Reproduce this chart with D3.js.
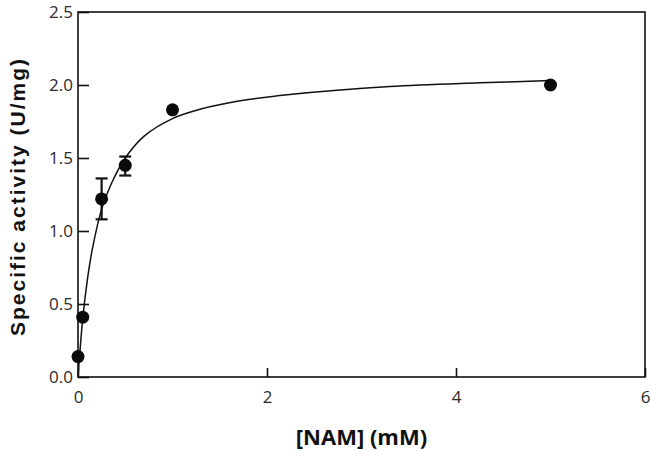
<!DOCTYPE html>
<html>
<head>
<meta charset="utf-8">
<script src="https://cdn.jsdelivr.net/npm/d3@7"></script>
<style>
  body { margin: 0; background: #fff; }
  svg { display: block; }
</style>
</head>
<body>
<div id="chart"></div>
<script>
// measured substrate concentrations (mM) and activities (U/mg)
const nam = [0, 0.05, 0.25, 0.5, 1.0, 5.0];
const activity = [0.14, 0.41, 1.22, 1.45, 1.83, 2.00];
const errLow = [0, 0, 1.08, 1.38, 0, 0];
const errHigh = [0, 0, 1.36, 1.51, 0, 0];

// fitted curve
const fitX = [0, 0.02, 0.05, 0.1, 0.15, 0.25, 0.35, 0.5, 0.7, 1.0, 1.3, 1.7, 2.24, 3.3, 4.25, 5.0];
const fitY = [0, 0.17, 0.40, 0.67, 0.87, 1.15, 1.32, 1.50, 1.65, 1.77, 1.835, 1.89, 1.935, 1.99, 2.015, 2.03];

const xTicks = [0, 2, 4, 6];
const yTicks = [0, 0.5, 1.0, 1.5, 2.0, 2.5];

const W = 650, H = 451;
const margin = {top: 12, right: 5, bottom: 74, left: 78};
const width = W - margin.left - margin.right;
const height = H - margin.top - margin.bottom;

const svg = d3.select("#chart").append("svg")
    .attr("width", W)
    .attr("height", H);
const g = svg.append("g")
    .attr("transform", "translate(" + margin.left + "," + margin.top + ")");

const x = d3.scaleLinear().domain([0, 6]).range([0, width]);
const y = d3.scaleLinear().domain([0, 2.5]).range([height, 0]);

// frame
g.append("rect")
    .attr("width", width)
    .attr("height", height)
    .attr("fill", "none")
    .attr("stroke", "#111")
    .attr("stroke-width", 1.6);

// axes with inward ticks
const xAxis = g.append("g")
    .attr("transform", "translate(0," + height + ")")
    .call(d3.axisBottom(x).tickValues(xTicks).tickFormat(d3.format("d"))
        .tickSizeInner(-9).tickSizeOuter(0).tickPadding(14));
const yAxis = g.append("g")
    .call(d3.axisLeft(y).tickValues(yTicks).tickFormat(d3.format(".1f"))
        .tickSizeInner(-11).tickSizeOuter(0).tickPadding(5));

[xAxis, yAxis].forEach(a => {
    a.select(".domain").remove();
    a.selectAll(".tick line").attr("stroke", "#111").attr("stroke-width", 1.6);
    a.selectAll(".tick text")
        .attr("fill", "#2a2a2a")
        .style("font-family", "'Open Sans', sans-serif")
        .style("font-size", "17px");
});

// fit line
const fit = fitX.map((v, i) => [v, fitY[i]]);
g.append("path")
    .datum(fit)
    .attr("fill", "none")
    .attr("stroke", "#111")
    .attr("stroke-width", 1.5)
    .attr("d", d3.line().x(d => x(d[0])).y(d => y(d[1])).curve(d3.curveCatmullRom));

// error bars
const pts = nam.map((v, i) => ({x: v, y: activity[i], lo: errLow[i], hi: errHigh[i]}));
const eb = g.selectAll(".err").data(pts.filter(d => d.hi > 0)).enter().append("g")
    .attr("class", "err")
    .attr("stroke", "#111")
    .attr("stroke-width", 2.2);
eb.append("line")
    .attr("x1", d => x(d.x)).attr("x2", d => x(d.x))
    .attr("y1", d => y(d.lo)).attr("y2", d => y(d.hi));
eb.append("line")
    .attr("x1", d => x(d.x) - 6).attr("x2", d => x(d.x) + 6)
    .attr("y1", d => y(d.lo)).attr("y2", d => y(d.lo));
eb.append("line")
    .attr("x1", d => x(d.x) - 6).attr("x2", d => x(d.x) + 6)
    .attr("y1", d => y(d.hi)).attr("y2", d => y(d.hi));

// points
g.selectAll(".pt").data(pts).enter().append("circle")
    .attr("class", "pt")
    .attr("cx", d => x(d.x))
    .attr("cy", d => y(d.y))
    .attr("r", 6.5)
    .attr("fill", "#0a0a0a");

// axis titles
svg.append("text")
    .attr("x", margin.left + width / 2)
    .attr("y", 445)
    .attr("text-anchor", "middle")
    .style("font-family", "'Open Sans', sans-serif")
    .style("font-weight", "bold")
    .style("font-size", "22px")
    .attr("fill", "#111")
    .text("[NAM] (mM)");

svg.append("text")
    .attr("transform", "translate(25," + (margin.top + height / 2 + 2) + ") rotate(-90)")
    .attr("text-anchor", "middle")
    .style("font-family", "'Liberation Sans', Arial, sans-serif")
    .style("font-weight", "bold")
    .style("font-size", "21px")
    .style("letter-spacing", "2px")
    .attr("fill", "#111")
    .text("Specific activity (U/mg)");
</script>
</body>
</html>
